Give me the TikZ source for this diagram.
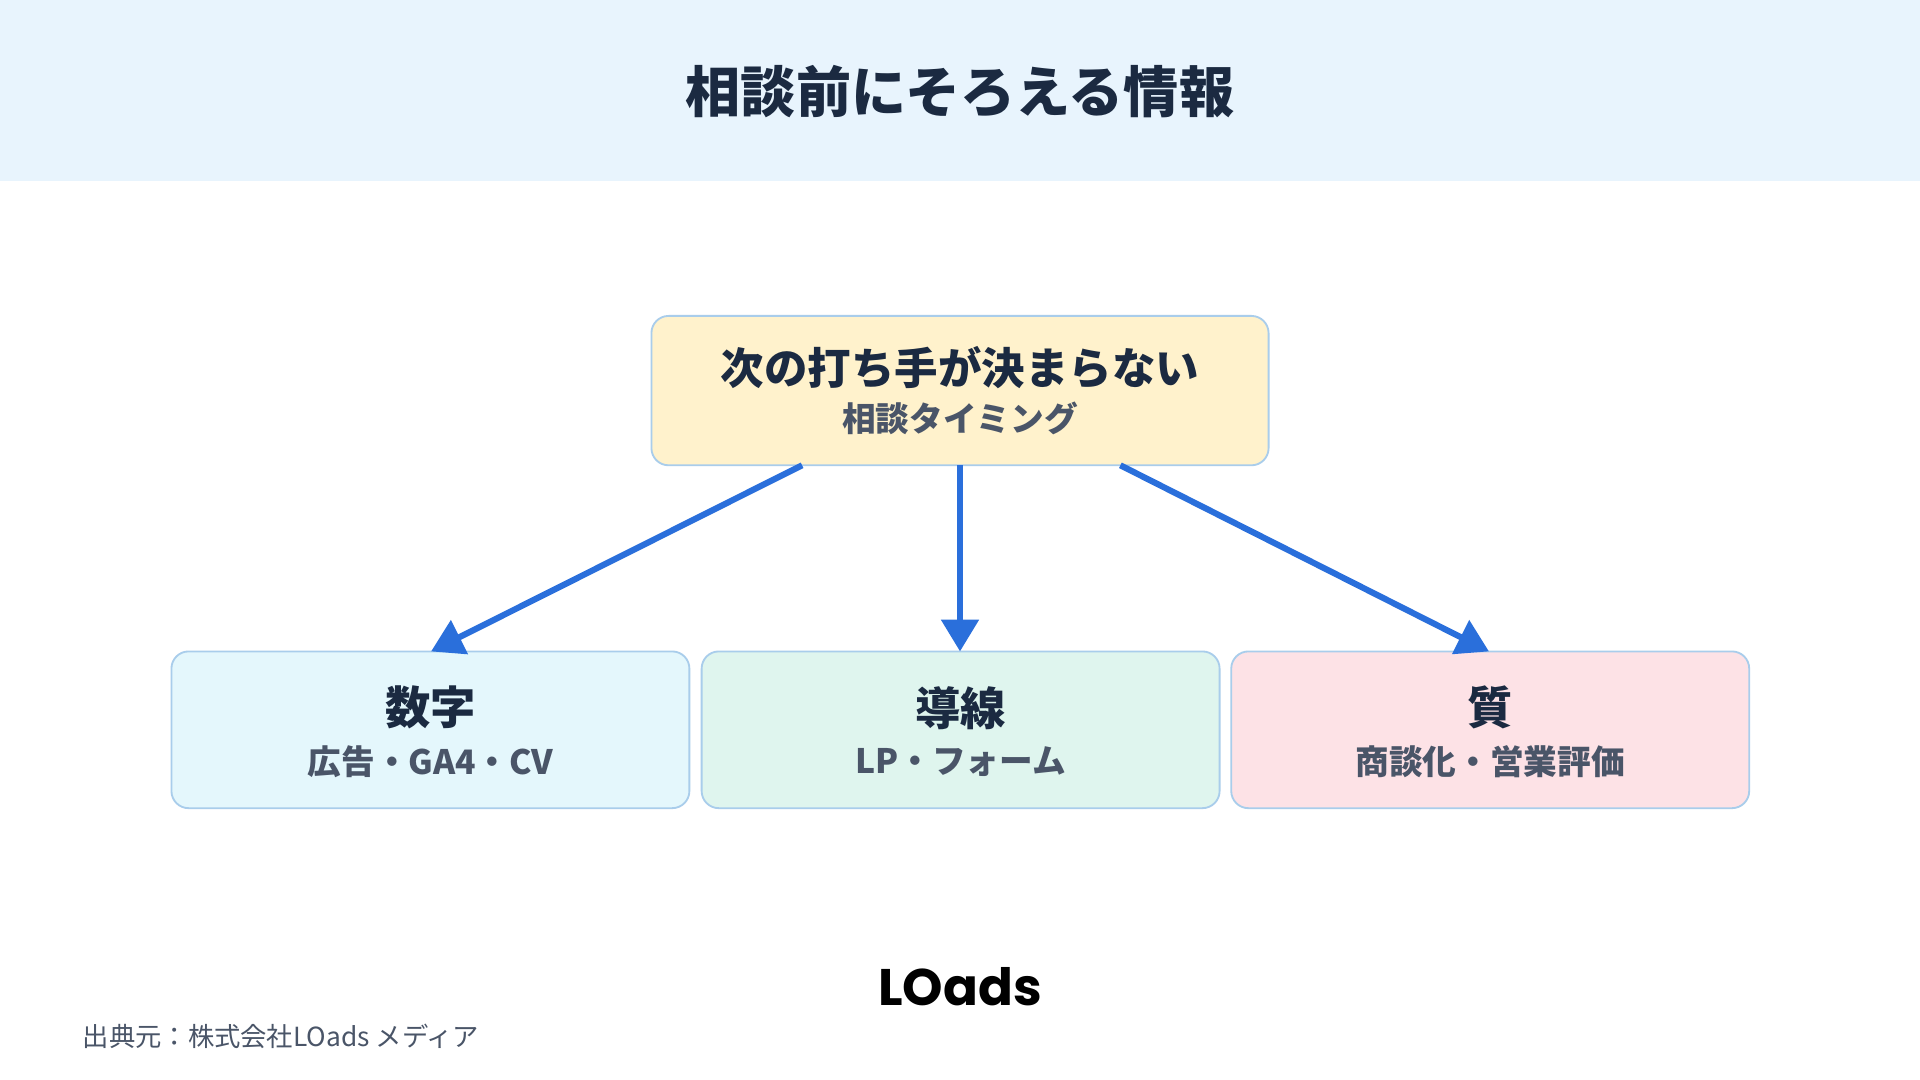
\documentclass[tikz,border=0pt]{standalone}
\usepackage{fontspec}
\setmainfont{Noto Sans CJK JP}
\newfontfamily\logofont{Poppins}
\usetikzlibrary{arrows.meta}
\definecolor{hdr}{HTML}{E8F4FD}
\definecolor{navy}{HTML}{1B2A41}
\definecolor{subg}{HTML}{4A5568}
\definecolor{bord}{HTML}{A9CDEB}
\definecolor{arr}{HTML}{2A6FDB}
\definecolor{fy}{HTML}{FFF2CC}
\definecolor{fb}{HTML}{E4F7FC}
\definecolor{fg}{HTML}{DFF5EE}
\definecolor{fp}{HTML}{FDE2E6}
\tikzset{
 box/.style={draw=bord,line width=1.5pt,rounded corners=14pt,minimum height=128pt,minimum width=423pt,inner sep=0pt},
 conn/.style={draw=arr,line width=5pt,-{Triangle[length=26pt,width=30pt]}},
 ttl/.style={font=\bfseries\fontsize{37}{40}\selectfont,text=navy},
 sub/.style={font=\bfseries\fontsize{27.5}{30}\selectfont,text=subg}
}
\begin{document}
\begin{tikzpicture}[x=1pt,y=-1pt]
\useasboundingbox (0,0) rectangle (1568,882);
\fill[white] (0,0) rectangle (1568,882);
\fill[hdr] (0,0) rectangle (1568,148);
\node[font=\bfseries\fontsize{45}{50}\selectfont,text=navy] (title) at (784,75) {相談前にそろえる情報};
\node[box,fill=fy,minimum width=504pt,minimum height=122pt] (top) at (784,319) {};
\node[ttl,font=\bfseries\fontsize{35.5}{38}\selectfont] (t1) at (784,300) {次の打ち手が決まらない};
\node[sub] (t2) at (784,342) {相談タイミング};
\node[box,fill=fb] (b1) at (351.5,596) {};
\node[box,fill=fg] (b2) at (784.5,596) {};
\node[box,fill=fp] (b3) at (1217,596) {};
\node[ttl] (b1t) at (351.5,578) {数字};
\node[sub] (b1s) at (351.5,622) {広告・GA4・CV};
\node[ttl] (b2t) at (784.5,578) {導線};
\node[sub] (b2s) at (784.5,622) {LP・フォーム};
\node[ttl] (b3t) at (1217,578) {質};
\node[sub] (b3s) at (1217,622) {商談化・営業評価};
\coordinate (s1) at (655,380); \coordinate (e1) at (352,532);
\coordinate (s2) at (784,380); \coordinate (e2) at (784,532);
\coordinate (s3) at (915,380); \coordinate (e3) at (1216,532);
\draw[conn] (s1) -- (e1);
\draw[conn] (s2) -- (e2);
\draw[conn] (s3) -- (e3);
\node[font=\logofont\bfseries\fontsize{42}{46}\selectfont,text=black] (logo) at (784,806) {LOads};
\node[anchor=west,font=\fontsize{21.5}{24}\selectfont,text=subg] (src) at (64,846) {出典元：株式会社LOads メディア};
\end{tikzpicture}
\end{document}
